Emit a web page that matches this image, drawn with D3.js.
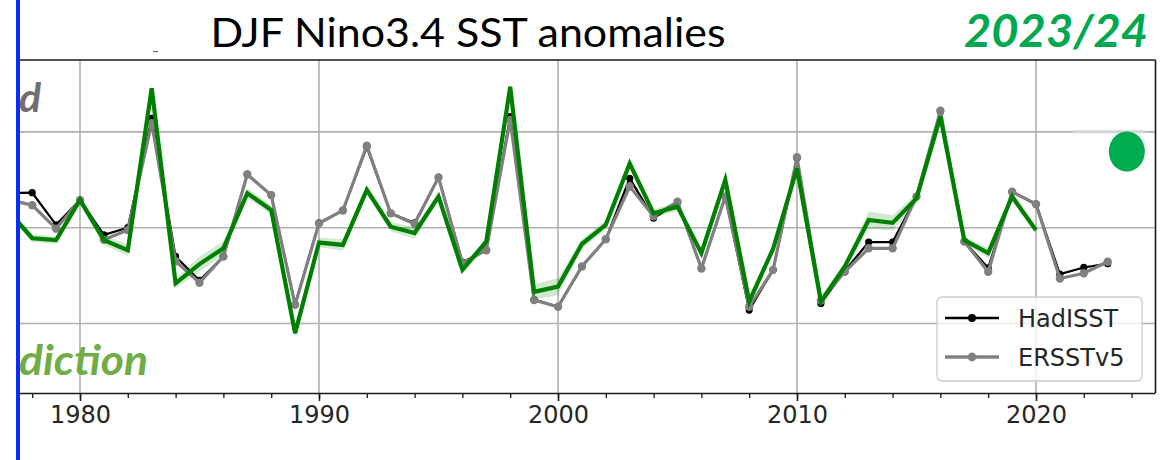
<!DOCTYPE html>
<html>
<head>
<meta charset="utf-8">
<script src="https://cdn.jsdelivr.net/npm/d3@7"></script>
<style>
  body { margin: 0; background: #fff; }
  svg { display: block; }
</style>
</head>
<body>
<svg id="chart" width="1171" height="460"></svg>
<script>
var obsYears = d3.range(1977, 2024);
var hadisst = [0.72, 0.73, 0.06, 0.58, -0.15, 0.0, 2.28, -0.6, -1.1, -0.6,
  1.12, 0.68, -1.6, 0.1, 0.36, 1.68, 0.3, 0.1, 1.05, -0.72,
  -0.47, 2.32, -1.5, -1.65, -0.81, -0.24, 1.03, 0.2, 0.52, -0.85,
  0.65, -1.72, -0.88, 1.45, -1.58, -0.9, -0.3, -0.3, 0.65, 2.42,
  -0.29, -0.84, 0.75, 0.5, -0.97, -0.83, -0.75];
var ersst = [0.59, 0.47, -0.02, 0.58, -0.25, -0.05, 2.18, -0.7, -1.15, -0.6,
  1.11, 0.68, -1.61, 0.09, 0.36, 1.71, 0.3, 0.08, 1.05, -0.74,
  -0.47, 2.25, -1.51, -1.65, -0.81, -0.24, 0.86, 0.24, 0.54, -0.85,
  0.65, -1.65, -0.88, 1.47, -1.52, -0.92, -0.43, -0.43, 0.65, 2.44,
  -0.29, -0.92, 0.75, 0.49, -1.06, -0.95, -0.71];
var predYears = d3.range(1977, 2021);
var prediction = [0.35, -0.22, -0.26, 0.58, -0.26, -0.47, 2.91, -1.16, -0.76, -0.43,
  0.72, 0.37, -2.2, -0.31, -0.36, 0.79, 0.02, -0.11, 0.65, -0.88,
  -0.29, 2.94, -1.34, -1.23, -0.34, 0.06, 1.34, 0.3, 0.44, -0.53,
  1.0, -1.54, -0.44, 1.24, -1.54, -0.81, 0.16, 0.1, 0.61, 2.32,
  -0.26, -0.53, 0.65, -0.05];
var spread = [0.08, 0.08, 0.08, 0.08, 0.1, 0.12, 0.08, 0.1, 0.16, 0.14,
  0.1, 0.1, 0.08, 0.1, 0.12, 0.1, 0.1, 0.12, 0.08, 0.08,
  0.08, 0.08, 0.16, 0.18, 0.1, 0.1, 0.08, 0.08, 0.1, 0.08,
  0.08, 0.08, 0.08, 0.08, 0.1, 0.08, 0.18, 0.16, 0.1, 0.08,
  0.08, 0.1, 0.1, 0.08];
var xTicks = [1980, 1990, 2000, 2010, 2020];
var xMinorTicks = d3.range(1978, 2025, 2);
var yGrid = [-2, 0, 2];
var forecast = { year: 2023.8, value: 1.59 };
var legendNames = ["HadISST", "ERSSTv5"];

var svg = d3.select("#chart");
var plot = { left: -39.5, right: 1155.5, top: 60, bottom: 393 };

var x = d3.scaleLinear().domain([1975, 2025]).range([plot.left, plot.right]);
var y = d3.scaleLinear().domain([-3.45, 3.5]).range([plot.bottom, plot.top]);

svg.append("defs").append("clipPath").attr("id", "plotClip")
  .append("rect")
  .attr("x", 20).attr("y", plot.top)
  .attr("width", plot.right - 20).attr("height", plot.bottom - plot.top);

var grid = svg.append("g").attr("clip-path", "url(#plotClip)");
grid.selectAll("line.vg").data(xTicks).enter().append("line")
  .attr("x1", function(d){ return x(d); }).attr("x2", function(d){ return x(d); })
  .attr("y1", plot.top).attr("y2", plot.bottom)
  .attr("stroke", "#b0b0b0").attr("stroke-width", 1.6);
grid.selectAll("line.hg").data(yGrid).enter().append("line")
  .attr("x1", 20).attr("x2", plot.right)
  .attr("y1", function(d){ return y(d); }).attr("y2", function(d){ return y(d); })
  .attr("stroke", "#b0b0b0").attr("stroke-width", 1.6);

// light overlay strip on the +2 gridline near the forecast
svg.append("line")
  .attr("x1", 1073).attr("x2", 1145)
  .attr("y1", y(2)).attr("y2", y(2))
  .attr("stroke", "#d4d4d4").attr("stroke-width", 3);

var g = svg.append("g").attr("clip-path", "url(#plotClip)");

var obs = obsYears.map(function(yr, i){ return { year: yr, had: hadisst[i], ers: ersst[i] }; });
var pred = predYears.map(function(yr, i){ return { year: yr, v: prediction[i], s: spread[i] }; });

var lineHad = d3.line().x(function(d){ return x(d.year); }).y(function(d){ return y(d.had); });
var lineErs = d3.line().x(function(d){ return x(d.year); }).y(function(d){ return y(d.ers); });
var linePred = d3.line().x(function(d){ return x(d.year); }).y(function(d){ return y(d.v); });
var bandPred = d3.area()
  .x(function(d){ return x(d.year); })
  .y0(function(d){ return y(d.v - d.s); })
  .y1(function(d){ return y(d.v + d.s); });

g.append("path").datum(obs)
  .attr("d", lineHad).attr("fill", "none")
  .attr("stroke", "#000").attr("stroke-width", 2.2);
g.selectAll("circle.had").data(obs).enter().append("circle")
  .attr("cx", function(d){ return x(d.year); })
  .attr("cy", function(d){ return y(d.had); })
  .attr("r", 3.6).attr("fill", "#000");

g.append("path").datum(obs)
  .attr("d", lineErs).attr("fill", "none")
  .attr("stroke", "#808080").attr("stroke-width", 3.2);
g.selectAll("circle.ers").data(obs).enter().append("circle")
  .attr("cx", function(d){ return x(d.year); })
  .attr("cy", function(d){ return y(d.ers); })
  .attr("r", 4.2).attr("fill", "#808080");

g.append("path").datum(pred)
  .attr("d", bandPred)
  .attr("fill", "#008000").attr("fill-opacity", 0.18);
g.append("path").datum(pred)
  .attr("d", linePred).attr("fill", "none")
  .attr("stroke", "#008000").attr("stroke-width", 4.2)
  .attr("stroke-linejoin", "miter");

// spines
svg.append("line").attr("x1", 20).attr("x2", plot.right).attr("y1", plot.top).attr("y2", plot.top)
  .attr("stroke", "#1a1a1a").attr("stroke-width", 1.6);
svg.append("line").attr("x1", plot.right).attr("x2", plot.right).attr("y1", plot.top).attr("y2", plot.bottom)
  .attr("stroke", "#1a1a1a").attr("stroke-width", 1.6);

var xAxis = svg.append("g")
  .attr("transform", "translate(0," + plot.bottom + ")")
  .call(d3.axisBottom(x).tickValues(xTicks).tickSize(8).tickPadding(5)
    .tickFormat(d3.format("d")));
xAxis.select(".domain").attr("stroke", "#1a1a1a").attr("stroke-width", 1.6)
  .attr("d", "M20,0.5H" + plot.right);
xAxis.selectAll(".tick line").attr("stroke", "#1a1a1a").attr("stroke-width", 1.6);
xAxis.selectAll(".tick text")
  .attr("font-family", "DejaVu Sans").attr("font-size", 24).attr("fill", "#262626");

var xMinor = svg.append("g")
  .attr("transform", "translate(0," + plot.bottom + ")")
  .call(d3.axisBottom(x).tickValues(xMinorTicks).tickSize(5).tickFormat(""));
xMinor.select(".domain").remove();
xMinor.selectAll(".tick line").attr("stroke", "#1a1a1a").attr("stroke-width", 1.3);

// legend
var leg = svg.append("g").attr("transform", "translate(937,297)");
leg.append("rect")
  .attr("width", 205).attr("height", 84).attr("rx", 5)
  .attr("fill", "#fff").attr("fill-opacity", 0.8)
  .attr("stroke", "#cccccc").attr("stroke-width", 1.3);
var legStyle = [
  { color: "#000", width: 2.6, r: 4 },
  { color: "#808080", width: 3.4, r: 4.4 }
];
legendNames.forEach(function(name, i){
  var ly = 21 + i * 39;
  leg.append("line")
    .attr("x1", 8).attr("x2", 62).attr("y1", ly).attr("y2", ly)
    .attr("stroke", legStyle[i].color).attr("stroke-width", legStyle[i].width);
  leg.append("circle")
    .attr("cx", 35).attr("cy", ly).attr("r", legStyle[i].r)
    .attr("fill", legStyle[i].color);
  leg.append("text")
    .attr("x", 81).attr("y", ly + 9)
    .attr("font-family", "DejaVu Sans").attr("font-size", 24)
    .attr("fill", "#262626")
    .text(name);
});

// forecast marker
svg.append("ellipse")
  .attr("cx", x(forecast.year)).attr("cy", y(forecast.value))
  .attr("rx", 18).attr("ry", 20)
  .attr("fill", "#00ac4f");

// overlay texts
svg.append("text")
  .attr("x", 468).attr("y", 47)
  .attr("text-anchor", "middle")
  .attr("font-family", "Lato").attr("font-size", 40)
  .attr("textLength", 515).attr("lengthAdjust", "spacingAndGlyphs")
  .attr("fill", "#000")
  .text("DJF Nino3.4 SST anomalies");

svg.append("text")
  .attr("x", 1148).attr("y", 47)
  .attr("text-anchor", "end")
  .attr("font-family", "Lato").attr("font-size", 45)
  .attr("font-weight", "bold").attr("font-style", "italic")
  .attr("textLength", 184).attr("lengthAdjust", "spacingAndGlyphs")
  .attr("fill", "#00a84f")
  .text("2023/24");

svg.append("text")
  .attr("x", 19).attr("y", 112)
  .attr("font-family", "Lato").attr("font-size", 41)
  .attr("font-weight", "bold").attr("font-style", "italic")
  .attr("fill", "#6f6f6f")
  .text("d");

svg.append("text")
  .attr("x", 19).attr("y", 375)
  .attr("font-family", "Lato").attr("font-size", 42)
  .attr("font-weight", "bold").attr("font-style", "italic")
  .attr("textLength", 129).attr("lengthAdjust", "spacingAndGlyphs")
  .attr("fill", "#70ad47")
  .text("diction");

svg.append("line")
  .attr("x1", 153).attr("x2", 158).attr("y1", 51.5).attr("y2", 51.5)
  .attr("stroke", "#666").attr("stroke-width", 1.2);

// left edge: white margin and blue bar
svg.append("rect").attr("x", 0).attr("y", 0).attr("width", 16).attr("height", 460).attr("fill", "#fff");
svg.append("rect").attr("x", 16).attr("y", 0).attr("width", 4).attr("height", 460).attr("fill", "#0a2cff");
</script>
</body>
</html>
